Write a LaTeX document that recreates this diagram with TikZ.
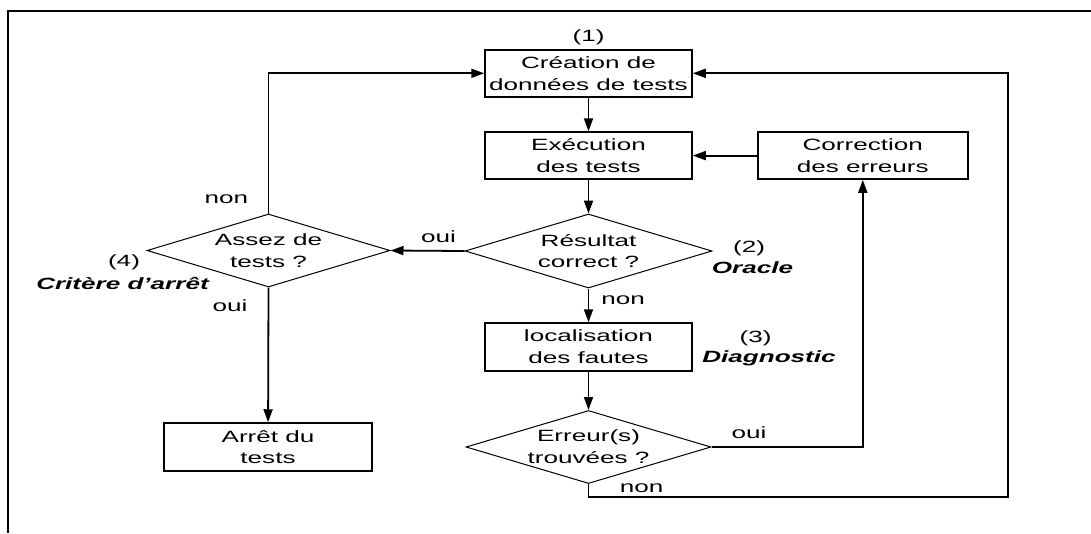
\documentclass[tikz,border=0pt]{standalone}
\usepackage{fontspec}
\setmainfont{Liberation Sans}[FakeStretch=1.6]
\usetikzlibrary{shapes.geometric,arrows.meta}

\begin{document}
\begin{tikzpicture}[x=1pt,y=-1pt,
  every node/.style={font=\fontsize{16.3}{21.7}\selectfont},
  stepbox/.style={draw, line width=1.5pt, rectangle, minimum width=207pt,
    minimum height=47pt, inner sep=0pt, align=center},
  test/.style={draw, line width=1pt, diamond, aspect=3.3, inner sep=0pt,
    minimum width=245pt, minimum height=73pt, align=center},
  flow/.style={line width=1.8pt, -{Triangle[length=13pt,width=9pt]}},
  lbl/.style={inner sep=0pt},
  tag/.style={inner sep=0pt, font=\fontsize{16.3}{21.7}\selectfont\bfseries\itshape}]
\useasboundingbox (0,0) rectangle (1091,533);

% frame
\draw[line width=2.2pt] (1091,11) -- (8,11) -- (8,533);

% process steps
\node[lbl] (n1) at (588.5,37.5) {(1)};
\node[stepbox] (create) at (588.5,73.3) {Création de\\données de tests};
\node[stepbox] (exec) at (588.5,155.6) {Exécution\\des tests};
\node[stepbox, minimum width=210pt] (corr) at (862.8,155.6) {Correction\\des erreurs};
\node[test, minimum width=247pt, minimum height=74pt] (result) at (588.5,251) {Résultat\\correct ?};
\node[test, minimum width=243pt] (assez) at (268.5,250.5) {Assez de\\tests ?};
\node[stepbox, minimum height=48pt] (loc) at (588.5,347) {localisation\\des fautes};
\node[test] (err) at (588.5,447) {Erreur(s)\\trouvées ?};
\node[stepbox, minimum width=208pt, minimum height=48pt] (stop) at (268,447) {Arrêt du\\tests};

% loop corner
\coordinate (br) at (1008,497);

% connectors
\draw[flow] (create) -- (exec);
\draw[flow] (exec) -- (result);
\draw[flow] (corr) -- (exec);
\draw[flow] (result.west) -- (assez.east);
\draw[flow] (result) -- (loc);
\draw[flow] (loc) -- (err);
\draw[flow] (assez.south) -- (stop);
\draw[flow] (assez.north) |- (create.west);
\draw[flow] (err.east) -| (corr.south);
\draw[flow] (err.south) |- (br) |- (create.east);

% labels
\node[lbl] (l1) at (226.5,199) {non};
\node[lbl] (l2) at (438.5,237) {oui};
\node[lbl] (l3) at (124,262) {(4)};
\node[tag] (l4) at (122.5,283) {Critère d'arrêt};
\node[lbl] (l5) at (230,306) {oui};
\node[lbl] (l6) at (749,248) {(2)};
\node[tag] (l7) at (752.5,268) {Oracle};
\node[lbl] (l8) at (623,300) {non};
\node[lbl] (l9) at (755.5,338) {(3)};
\node[tag] (l10) at (769,358) {Diagnostic};
\node[lbl] (l11) at (749,433) {oui};
\node[lbl] (l12) at (641.6,488) {non};
\end{tikzpicture}
\end{document}
